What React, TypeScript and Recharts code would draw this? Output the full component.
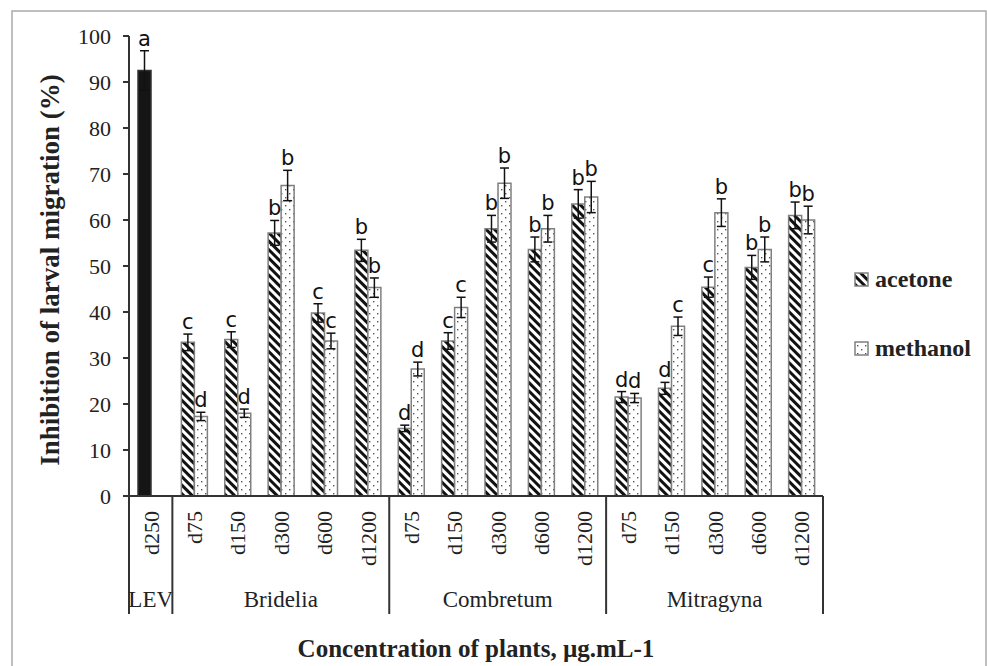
import React from "react";
import { BarChart, Bar, XAxis, YAxis, ErrorBar, Cell, LabelList } from "recharts";

// ---- data ----
const categories = ["d250", "d75", "d150", "d300", "d600", "d1200", "d75", "d150", "d300", "d600", "d1200", "d75", "d150", "d300", "d600", "d1200"];
const groupNames = ["LEV", "Bridelia", "Combretum", "Mitragyna"];
const groupSizes = [1, 5, 5, 5];

const acetone = [92.5, 33.4, 34.0, 57.2, 39.8, 53.4, 14.7, 33.7, 58.1, 53.6, 63.5, 21.5, 23.4, 45.4, 49.7, 61.0];
const acetoneErr = [4.3, 1.8, 1.7, 2.7, 2.0, 2.4, 0.7, 1.8, 2.9, 2.7, 3.1, 1.2, 1.3, 2.2, 2.6, 2.9];
const methanol = [null, 17.3, 18.0, 67.5, 33.7, 45.3, 27.6, 41.0, 68.0, 58.1, 65.0, 21.3, 36.9, 61.6, 53.6, 60.0];
const methanolErr = [null, 0.9, 0.9, 3.3, 1.7, 2.1, 1.5, 2.2, 3.3, 2.9, 3.4, 1.0, 2.0, 3.0, 2.7, 3.0];
const acetoneLetters = ["a", "c", "c", "b", "c", "b", "d", "c", "b", "b", "b", "d", "d", "c", "b", "b"];
const methanolLetters = ["", "d", "d", "b", "c", "b", "d", "c", "b", "b", "b", "d", "c", "b", "b", "b"];

const yTicks = [0, 10, 20, 30, 40, 50, 60, 70, 80, 90, 100];

const data = categories.map((c, i) => ({
  key: `${i}-${c}`,
  dose: c,
  acetone: acetone[i],
  aErr: acetoneErr[i],
  aLab: `${acetoneLetters[i]}|${acetoneErr[i]}|${acetone[i]}`,
  methanol: methanol[i],
  mErr: methanolErr[i],
  mLab: methanol[i] == null ? "" : `${methanolLetters[i]}|${methanolErr[i]}|${methanol[i]}`,
}));

// group boundaries
const groupStarts: number[] = [];
const groupMids: Record<number, string> = {};
{
  let s = 0;
  groupSizes.forEach((n, g) => {
    groupStarts.push(s);
    groupMids[s + Math.floor(n / 2)] = groupNames[g];
    s += n;
  });
}

const SERIF = "'Liberation Serif', 'Times New Roman', serif";
const SANS = "'DejaVu Sans', sans-serif";

const W = 987;
const H = 666;
const MARGIN = { top: 36, right: 164, bottom: 50, left: 69 };
const Y_W = 60;
const X_H = 120;
const BAND = (W - MARGIN.left - MARGIN.right - Y_W) / categories.length;

const XTick = (props: any) => {
  const { x, y, payload, index } = props;
  const half = payload && payload.offset ? payload.offset : BAND / 2;
  const cx = Number(x);
  const cy = Number(y);
  const els: any[] = [];
  els.push(
    <text
      key="t"
      transform={`translate(${cx},${cy + 15}) rotate(-90)`}
      textAnchor="end"
      dy={8}
      fontSize={22}
      fontFamily={SERIF}
      fill="#222"
    >
      {categories[index]}
    </text>
  );
  if (groupStarts.includes(index)) {
    els.push(<line key="l" x1={cx - half} x2={cx - half} y1={cy} y2={cy + 118} stroke="#333" strokeWidth={2} />);
  }
  if (index === categories.length - 1) {
    els.push(<line key="r" x1={cx + half} x2={cx + half} y1={cy} y2={cy + 118} stroke="#333" strokeWidth={2} />);
  }
  if (groupMids[index] !== undefined) {
    els.push(
      <text key="g" x={cx} y={cy + 111} textAnchor="middle" fontSize={23} fontFamily={SERIF} fill="#222">
        {groupMids[index]}
      </text>
    );
  }
  return <g>{els}</g>;
};

const renderLetter = (props: any) => {
  const { x, y, width, height, value } = props;
  if (!value) return null;
  const [letter, errS, valS] = String(value).split("|");
  const v = Number(valS);
  const err = Number(errS);
  if (!letter || !v) return null;
  const h = Math.abs(Number(height));
  const errPx = (err * h) / v;
  return (
    <text
      x={Number(x) + Number(width) / 2}
      y={Number(y) - errPx - 5}
      textAnchor="middle"
      fontSize={21}
      fontFamily={SANS}
      fill="#111"
    >
      {letter}
    </text>
  );
};

const Patterns = ({ suffix }: { suffix: string }) => (
  <defs>
    <pattern id={`hatch${suffix}`} patternUnits="userSpaceOnUse" width={6} height={6} patternTransform="rotate(-45)">
      <rect width={6} height={6} fill="#fff" />
      <rect width={3} height={6} fill="#111" />
    </pattern>
    <pattern id={`dots${suffix}`} patternUnits="userSpaceOnUse" width={8} height={8}>
      <rect width={8} height={8} fill="#fff" />
      <rect x={1} y={1} width={1.4} height={1.4} fill="#555" />
      <rect x={5} y={5} width={1.4} height={1.4} fill="#555" />
    </pattern>
  </defs>
);

export default function App() {
  return (
    <div style={{ position: "absolute", left: 0, top: 0, width: W, height: H, background: "#fff" }}>
      <BarChart width={W} height={H} data={data} margin={MARGIN} barGap={0} barSize={13}>
        <Patterns suffix="" />
        <XAxis
          dataKey="key"
          interval={0}
          height={X_H}
          tickLine={false}
          tickSize={0}
          tickMargin={0}
          axisLine={{ stroke: "#333", strokeWidth: 2 }}
          tick={<XTick />}
        />
        <YAxis
          width={Y_W}
          domain={[0, 100]}
          ticks={yTicks}
          interval={0}
          tickSize={6}
          tickMargin={12}
          axisLine={{ stroke: "#333", strokeWidth: 2 }}
          tickLine={{ stroke: "#333", strokeWidth: 2 }}
          tick={{ fontSize: 22, fontFamily: SERIF, fill: "#222" }}
        />
        <Bar dataKey="acetone" fill="url(#hatch)" stroke="#808080" strokeWidth={1.5} isAnimationActive={false}>
          {data.map((d, i) => (
            <Cell key={i} fill={i === 0 ? "#151515" : "url(#hatch)"} stroke={i === 0 ? "#333" : "#808080"} />
          ))}
          <ErrorBar dataKey="aErr" width={4.5} strokeWidth={1.5} stroke="#111" direction="y" />
          <LabelList dataKey="aLab" content={renderLetter} />
        </Bar>
        <Bar dataKey="methanol" fill="url(#dots)" stroke="#808080" strokeWidth={1.5} isAnimationActive={false}>
          <ErrorBar dataKey="mErr" width={4.5} strokeWidth={1.5} stroke="#111" direction="y" />
          <LabelList dataKey="mLab" content={renderLetter} />
        </Bar>
      </BarChart>
      <svg
        width={W}
        height={H}
        style={{ position: "absolute", left: 0, top: 0, pointerEvents: "none" }}
      >
        <Patterns suffix="L" />
        <rect x={12} y={11} width={974} height={700} fill="none" stroke="#aaa" strokeWidth={1.5} />
        <text
          transform="translate(59,270) rotate(-90)"
          textAnchor="middle"
          fontSize={27}
          fontWeight="bold"
          fontFamily={SERIF}
          fill="#222"
        >
          Inhibition of larval migration (%)
        </text>
        <text x={476} y={657} textAnchor="middle" fontSize={25} fontWeight="bold" fontFamily={SERIF} fill="#222">
          Concentration of plants, µg.mL-1
        </text>
        <rect x={855} y={273} width={13} height={13} fill="url(#hatchL)" stroke="#808080" strokeWidth={1.5} />
        <text x={875} y={287} fontSize={24} fontWeight="bold" fontFamily={SERIF} fill="#222">
          acetone
        </text>
        <rect x={855} y={342} width={13} height={13} fill="url(#dotsL)" stroke="#808080" strokeWidth={1.5} />
        <text x={875} y={356} fontSize={24} fontWeight="bold" fontFamily={SERIF} fill="#222">
          methanol
        </text>
      </svg>
    </div>
  );
}
